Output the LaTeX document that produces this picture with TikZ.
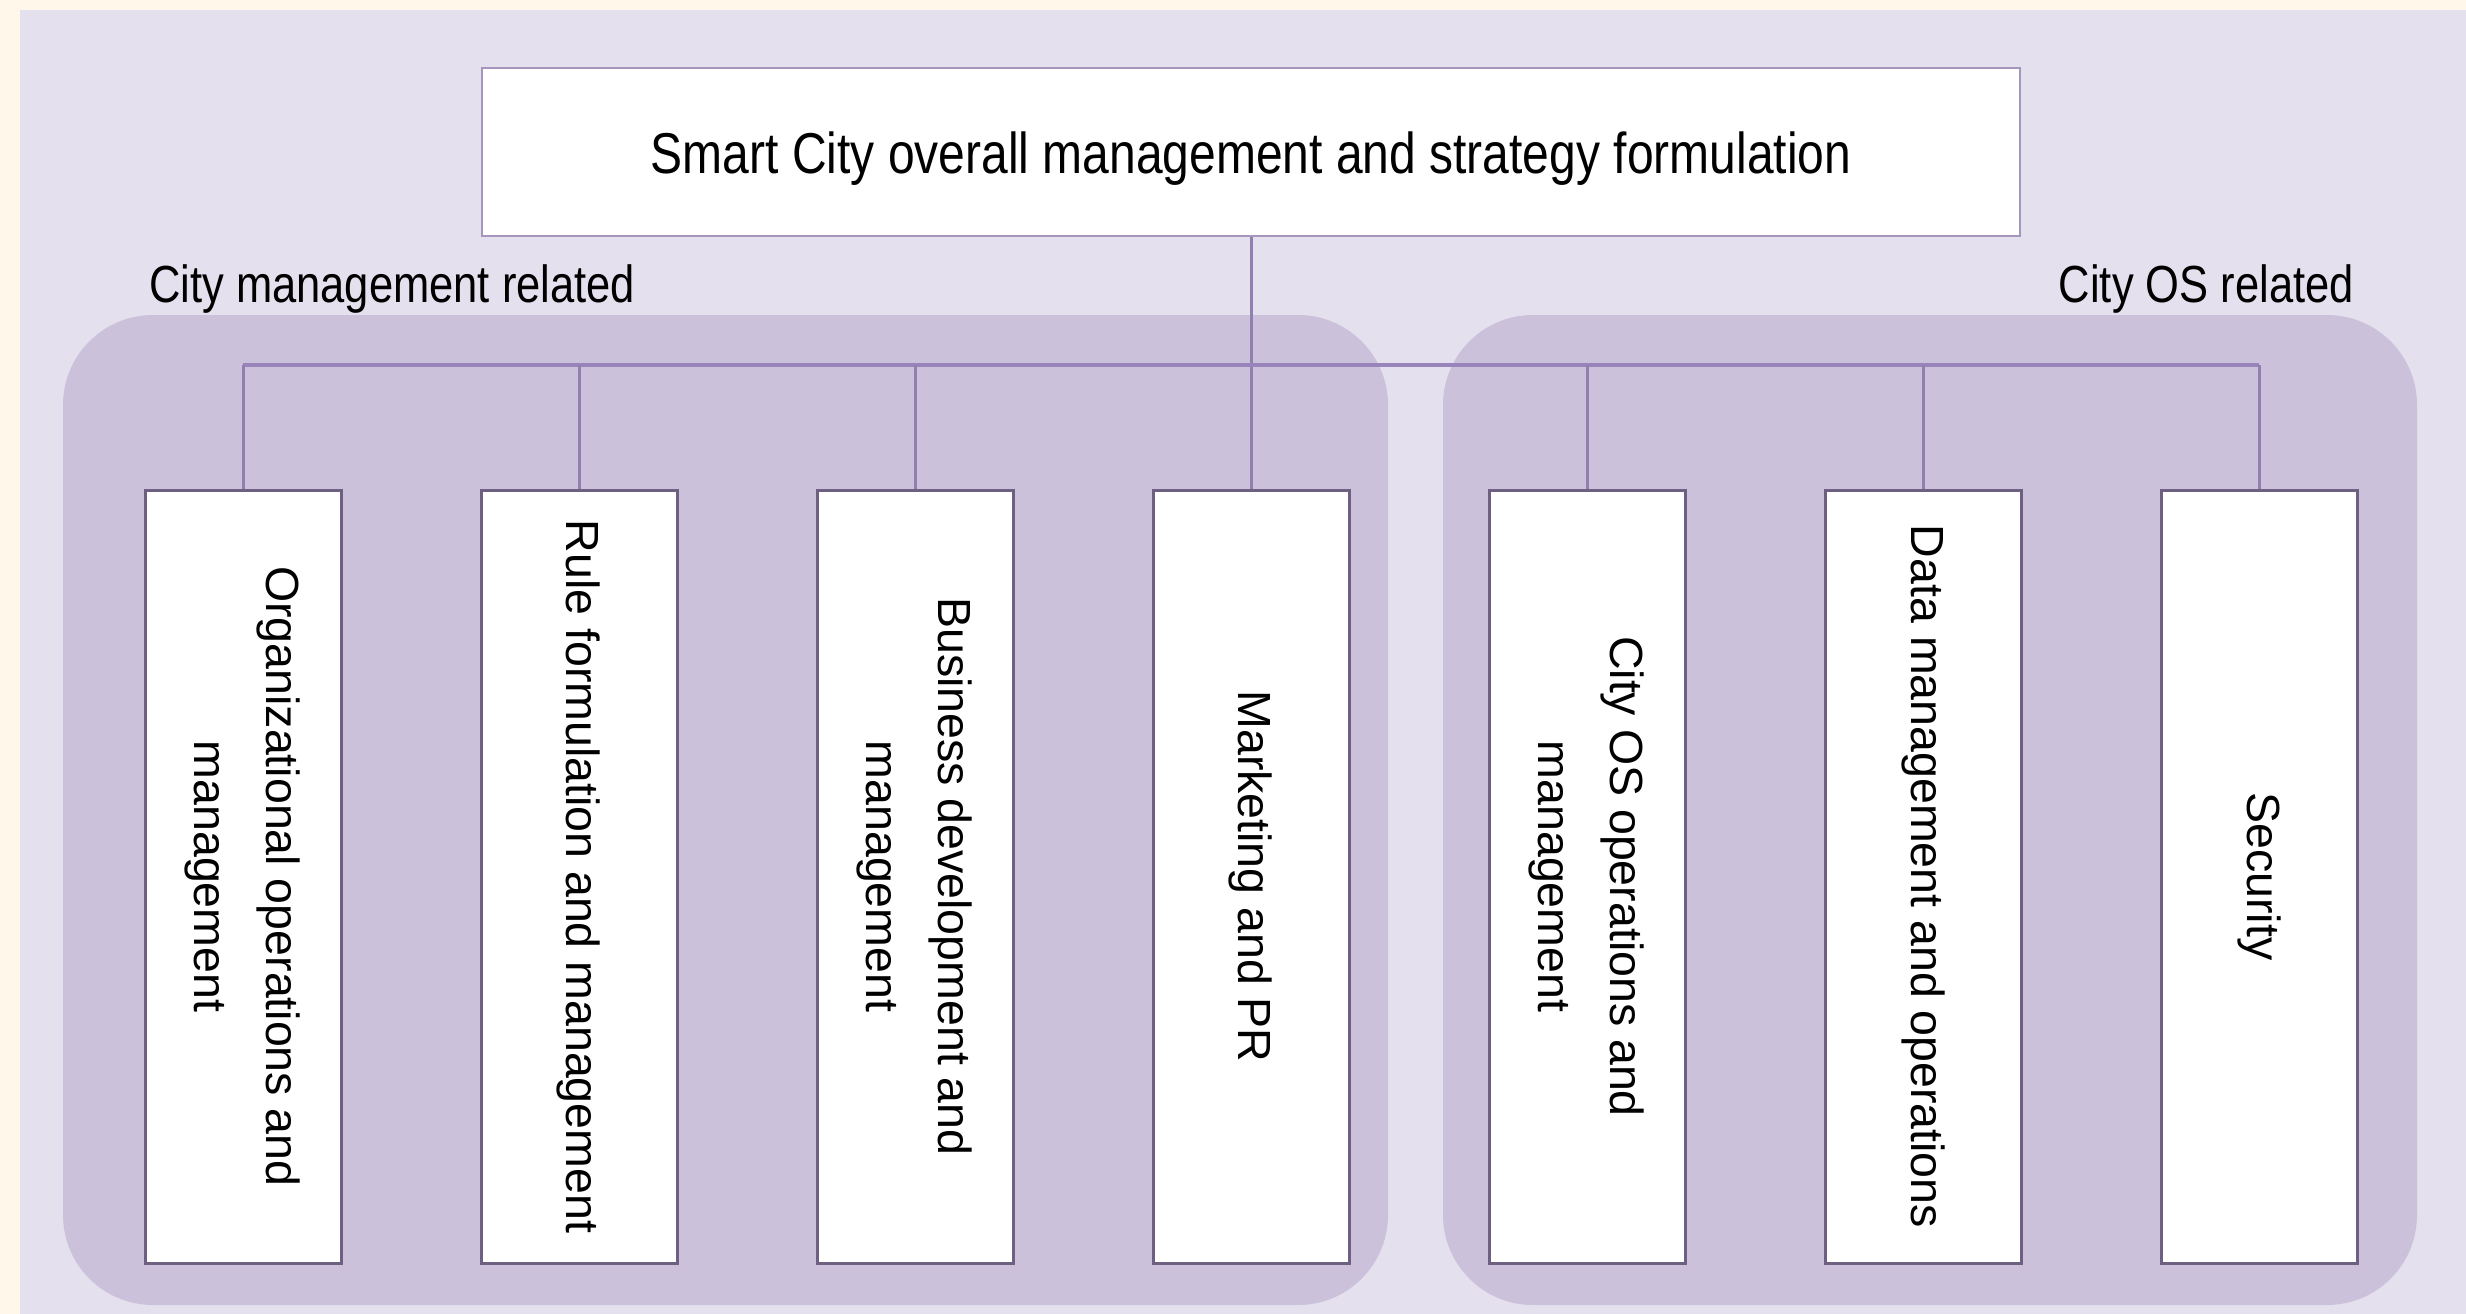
\documentclass[tikz,border=0pt]{standalone}
\usepackage{fontspec}
\usepackage{graphicx}
\setmainfont{Liberation Sans}
\definecolor{cream}{HTML}{FFF8EA}
\definecolor{bg}{HTML}{E5E0ED}
\definecolor{panel}{HTML}{CBC1DB}
\definecolor{boxline}{HTML}{6E6080}
\definecolor{conn}{HTML}{9080B0}
\definecolor{busline}{HTML}{9A84BC}
\definecolor{topline}{HTML}{A596BC}
\newcommand{\tallText}[1]{\scalebox{1}[1.2]{#1}}
\tikzset{
  topbox/.style={draw=topline, fill=white, line width=2.5pt, minimum width=1538pt, minimum height=168pt, inner sep=0pt},
  toptext/.style={inner sep=0pt, anchor=base, font=\fontsize{48}{58}\selectfont},
  subbox/.style={draw=boxline, fill=white, line width=3pt, rotate=-90, minimum width=773pt, minimum height=196pt, inner sep=0pt, align=center, font=\fontsize{46.5}{72}\selectfont},
  grouplabel/.style={inner sep=0pt, font=\fontsize{43.5}{52}\selectfont},
  connline/.style={draw=conn, line width=3pt},
  busstyle/.style={draw=busline, line width=4pt},
  panelbg/.style={fill=panel, rounded corners=90pt}
}
\begin{document}
\begin{tikzpicture}[x=1pt,y=-1pt]
\useasboundingbox (0,0) rectangle (2466,1314);
\fill[cream] (0,0) rectangle (2466,1314);
\fill[bg] (20,10) rectangle (2466,1314);
\fill[panelbg] (63,315) rectangle (1388,1305);
\fill[panelbg] (1443,315) rectangle (2417,1305);

\node[grouplabel, anchor=base west] (lblL) at (149,302) {\tallText{City management related}};
\node[grouplabel, anchor=base east] (lblR) at (2354,302) {\tallText{City OS related}};

\node[topbox] (top) at (1251,152) {};
\node[toptext] (toplabel) at (1251,173) {\tallText{Smart City overall management and strategy formulation}};

\node[subbox] (b1) at (243,876.5) {Organizational operations and\\management};
\node[subbox] (b2) at (579,876.5) {Rule formulation and management};
\node[subbox] (b3) at (915,876.5) {Business development and\\management};
\node[subbox] (b4) at (1251,876.5) {Marketing and PR};
\node[subbox] (b5) at (1587,876.5) {City OS operations and\\management};
\node[subbox] (b6) at (1923,876.5) {Data management and operations};
\node[subbox] (b7) at (2259,876.5) {Security};

\coordinate (bus) at (1251,365);
\draw[connline] (top.south) -- (b4.west);
\draw[busstyle] (b1.west |- bus) -- (b7.west |- bus);
\foreach \b in {b1,b2,b3,b5,b6,b7} {
  \draw[connline] (\b.west) -- (\b.west |- bus);
}
\end{tikzpicture}
\end{document}
